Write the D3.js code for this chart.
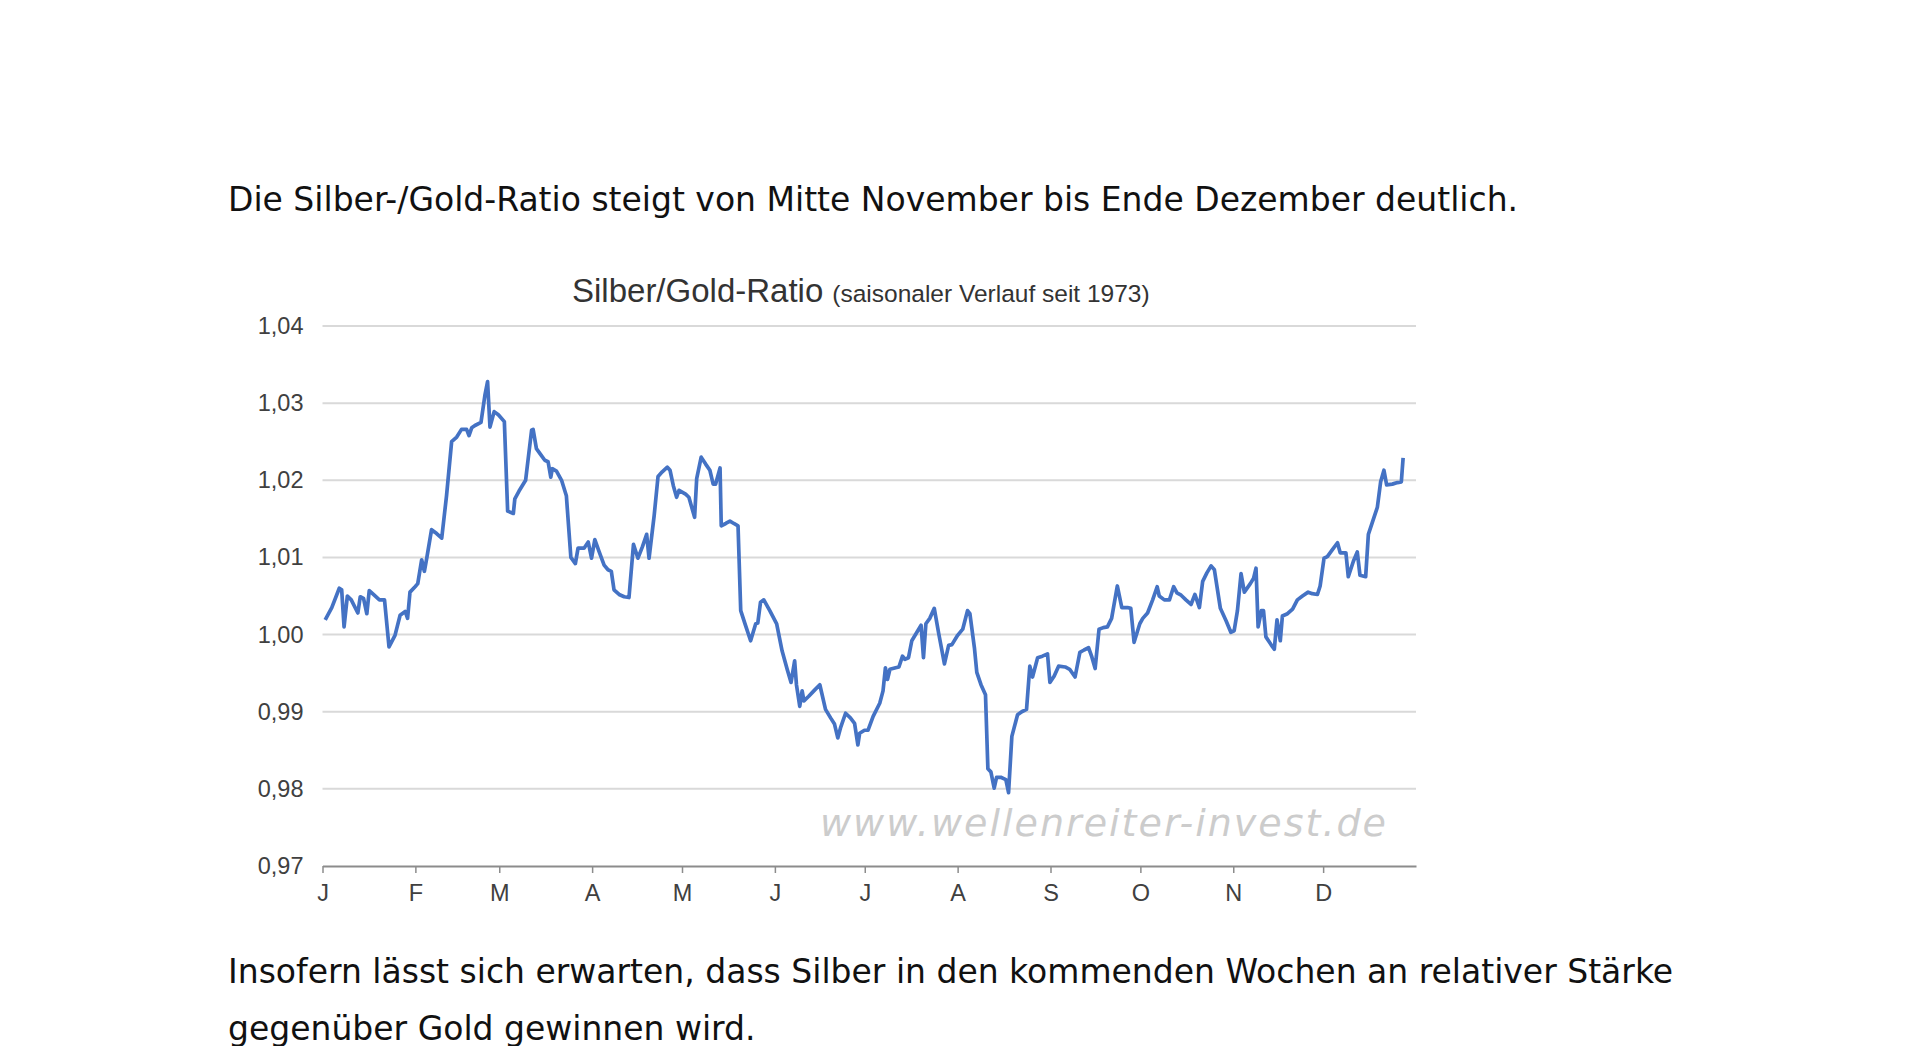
<!DOCTYPE html>
<html>
<head>
<meta charset="utf-8">
<script src="https://cdnjs.cloudflare.com/ajax/libs/d3/7.8.5/d3.min.js"></script>
<style>
    html, body { margin: 0; padding: 0; background: #fff; overflow: hidden; }
    svg { display: block; }
</style>
</head>
<body>
<div id="chart"></div>
<script>

// Texts
var introText = 'Die Silber-/Gold-Ratio steigt von Mitte November bis Ende Dezember deutlich.';
var outroLines = ['Insofern lässt sich erwarten, dass Silber in den kommenden Wochen an relativer Stärke',
                  'gegenüber Gold gewinnen wird.'];
var chartTitle = 'Silber/Gold-Ratio',
    chartSubtitle = '(saisonaler Verlauf seit 1973)',
    watermark = 'www.wellenreiter-invest.de';

// Axis ticks
var monthLabels = ['J', 'F', 'M', 'A', 'M', 'J', 'J', 'A', 'S', 'O', 'N', 'D'];
var monthStarts = [0, 31, 59, 90, 120, 151, 181, 212, 243, 273, 304, 334];
var yTicks = [0.97, 0.98, 0.99, 1.00, 1.01, 1.02, 1.03, 1.04];

// Seasonal ratio, day of year -> value
var ratioDays = [0.9,3.1,5.6,6.4,7.2,8.3,9.6,11.8,12.6,13.7,14.8,15.6,17,19,20.7,22.2,24.2,25.9,27.6,28.4,
    29.2,30.9,31.8,33.1,34,34.8,36.4,38.1,39.8,41.4,43.1,44.8,46.4,48.1,48.9,49.8,50.9,52.9,54.2,55.1,
    55.9,57.3,58.7,60.7,61.8,63.7,64.2,65.6,67.8,69.8,70.3,71.4,72.9,74.2,75.3,76.2,76.7,78.1,79.8,81.4,
    82.9,84.4,85.3,87.3,88.7,89.8,90.9,
    92.3,94,95.3,96.4,97.3,99,100.7,102.3,103.8,105.3,106.8,108.2,109,110.7,112,113.4,115.1,116,117.1,118.2,
    119,121.2,122.3,123.1,124.2,124.9,126.4,127.9,129.3,130.4,131.2,132.7,133.1,134.6,136,137.3,138.7,139.6,141.2,142.9,
    144.6,145.3,146.2,147.3,149.3,151.6,153.4,155.1,156.4,157.6,158.2,159.3,160.1,160.7,162.3,164,166,167.9,169.6,170.9,
    172,172.9,174.6,176.2,177.6,178.7,179.3,180.9,
    182.1,183.8,186,187.1,187.9,188.6,189.4,191.3,192.4,193.6,194.4,195.6,196.7,198.4,199.8,200.6,201.4,202.7,204.2,205.7,
    207.6,209,210.1,212,213.7,215.3,216.1,217.6,218.4,219.8,221.3,222.1,223.1,224.2,225,226.4,228.1,229,230.1,232,
    233.4,235,236.1,237,238.7,240.3,242,242.8,244.2,245.7,247.9,249.4,251.2,252.8,254.2,255.7,256.8,257.9,259.2,260.6,
    262,263.4,265.3,266.8,268.7,269.8,270.9,272.8,
    273.8,275.4,277.1,278.6,279.3,281,282.7,284.1,285.2,286.6,288.2,289.9,291.2,292.7,293.8,295.2,296.6,297.7,299.7,301.6,
    303.2,304.3,305.4,306.6,307.7,309.7,310.8,311.6,312.3,313.4,314.1,314.9,316.6,317.7,318.6,319.7,320.4,322.1,323.8,325.4,
    327.1,329,330.4,332.1,333,334.3,335.4,337.1,338.8,339.7,341.6,342.4,344.1,345.4,346.3,348.2,349.1,350.4,352.1,353.2,
    354.3,355.2,357.1,358.8,360.1,360.7];

var ratioValues = [1.0019,1.0035,1.0060,1.0058,1.0010,1.0050,1.0045,1.0028,1.0049,1.0047,1.0027,1.0057,1.0052,1.0045,1.0045,0.9984,0.9999,1.0025,1.0030,1.0021,
    1.0055,1.0062,1.0066,1.0097,1.0082,1.0099,1.0136,1.0131,1.0125,1.0180,1.0250,1.0256,1.0266,1.0266,1.0258,1.0268,1.0271,1.0275,1.0310,1.0328,
    1.0269,1.0289,1.0285,1.0276,1.0160,1.0157,1.0176,1.0186,1.0200,1.0265,1.0266,1.0241,1.0233,1.0226,1.0224,1.0204,1.0215,1.0212,1.0200,1.0180,
    1.0100,1.0092,1.0112,1.0112,1.0120,1.0099,1.0123,
    1.0108,1.0090,1.0084,1.0082,1.0058,1.0052,1.0049,1.0048,1.0117,1.0099,1.0114,1.0130,1.0099,1.0154,1.0205,1.0211,1.0217,1.0213,1.0193,1.0178,
    1.0187,1.0182,1.0178,1.0167,1.0152,1.0202,1.0230,1.0221,1.0213,1.0195,1.0195,1.0216,1.0141,1.0144,1.0147,1.0144,1.0141,1.0031,1.0012,0.9992,
    1.0014,1.0015,1.0042,1.0045,1.0031,1.0014,0.9979,0.9955,0.9938,0.9966,0.9935,0.9907,0.9927,0.9914,0.9920,0.9927,0.9935,0.9903,0.9892,0.9884,
    0.9866,0.9879,0.9898,0.9892,0.9885,0.9857,0.9872,0.9876,
    0.9876,0.9894,0.9911,0.9927,0.9957,0.9942,0.9955,0.9957,0.9958,0.9972,0.9968,0.9970,0.9992,1.0003,1.0012,0.9970,1.0014,1.0021,1.0034,1.0001,
    0.9962,0.9986,0.9987,0.9999,1.0007,1.0031,1.0027,0.9983,0.9951,0.9935,0.9922,0.9826,0.9822,0.9801,0.9815,0.9815,0.9812,0.9795,0.9868,0.9896,
    0.9900,0.9903,0.9959,0.9945,0.9970,0.9972,0.9975,0.9938,0.9946,0.9959,0.9958,0.9955,0.9945,0.9977,0.9980,0.9983,0.9971,0.9956,1.0007,1.0009,
    1.0010,1.0021,1.0063,1.0035,1.0035,1.0034,0.9990,1.0014,
    1.0021,1.0028,1.0045,1.0062,1.0050,1.0045,1.0045,1.0062,1.0054,1.0051,1.0045,1.0039,1.0052,1.0035,1.0069,1.0080,1.0089,1.0084,1.0034,1.0018,
    1.0003,1.0005,1.0031,1.0079,1.0055,1.0066,1.0073,1.0086,1.0010,1.0031,1.0031,0.9997,0.9987,0.9981,1.0019,0.9992,1.0024,1.0027,1.0033,1.0045,
    1.0050,1.0055,1.0053,1.0052,1.0063,1.0099,1.0101,1.0110,1.0119,1.0106,1.0106,1.0075,1.0095,1.0107,1.0077,1.0075,1.0130,1.0145,1.0165,1.0198,
    1.0213,1.0194,1.0195,1.0197,1.0198,1.0229];


var width = 1920,
    height = 1046;

// plot box
var plot = { left: 322.5, right: 1416, top: 326, bottom: 866 };

var textFont = '"DejaVu Sans", Verdana, sans-serif',
    chartFont = '"Liberation Sans", Arial, sans-serif';

var svg = d3.select('#chart').append('svg')
    .attr('width', width)
    .attr('height', height);

svg.append('rect').attr('width', width).attr('height', height).attr('fill', '#fff');

// Paragraphs around the chart
svg.append('text')
    .attr('x', 228).attr('y', 211)
    .style('font-family', textFont).style('font-size', '33px').style('fill', '#111')
    .text(introText);

svg.selectAll('.outro')
    .data(outroLines)
    .enter().append('text')
    .attr('class', 'outro')
    .attr('x', 228)
    .attr('y', function(d, i){ return 983 + i * 57; })
    .style('font-family', textFont).style('font-size', '33px').style('fill', '#111')
    .text(function(d){ return d; });

// Scales
var x = d3.scaleLinear().domain([0, 365]).range([plot.left, plot.right]);
var y = d3.scaleLinear().domain([0.97, 1.04]).range([plot.bottom, plot.top]);

// Horizontal grid
svg.append('g')
    .selectAll('line')
    .data(yTicks.filter(function(d){ return d > 0.975; }))
    .enter().append('line')
    .attr('x1', plot.left).attr('x2', plot.right)
    .attr('y1', function(d){ return y(d); })
    .attr('y2', function(d){ return y(d); })
    .attr('stroke', '#d9d9d9')
    .attr('stroke-width', 2);

// Y axis labels (no axis line in the original)
var yAxis = d3.axisLeft(y)
    .tickValues(yTicks)
    .tickSize(0)
    .tickPadding(19)
    .tickFormat(function(d){ return d3.format('.2f')(d).replace('.', ','); });

var yAxisG = svg.append('g')
    .attr('transform', 'translate(' + plot.left + ',0)')
    .call(yAxis);
yAxisG.select('.domain').remove();
yAxisG.selectAll('text')
    .style('font-family', chartFont).style('font-size', '23.5px').style('fill', '#404040');

// X axis with month ticks
var xAxis = d3.axisBottom(x)
    .tickValues(monthStarts)
    .tickSize(7)
    .tickSizeOuter(0)
    .tickPadding(11)
    .tickFormat(function(d, i){ return monthLabels[i]; });

var xAxisG = svg.append('g')
    .attr('transform', 'translate(0,' + plot.bottom + ')')
    .call(xAxis);
xAxisG.select('.domain').attr('stroke', '#8c8c8c').attr('stroke-width', 2);
xAxisG.selectAll('.tick line').attr('stroke', '#8c8c8c').attr('stroke-width', 1.5);
xAxisG.selectAll('text')
    .style('font-family', chartFont).style('font-size', '23.5px').style('fill', '#404040');

// Watermark
svg.append('text')
    .attr('x', 820).attr('y', 836)
    .attr('textLength', 566)
    .style('font-family', textFont).style('font-size', '38px')
    .style('font-style', 'italic').style('fill', '#cccccc')
    .text(watermark);

// Title
var title = svg.append('text')
    .attr('x', 572).attr('y', 302)
    .style('font-family', chartFont).style('fill', '#333');
title.append('tspan').style('font-size', '33px').text(chartTitle);
title.append('tspan').attr('dx', 9).style('font-size', '24.5px').text(chartSubtitle);

// Line
var points = ratioDays.map(function(d, i){ return { day: d, value: ratioValues[i] }; });

var line = d3.line()
    .x(function(d){ return x(d.day); })
    .y(function(d){ return y(d.value); });

svg.append('path')
    .datum(points)
    .attr('d', line)
    .attr('fill', 'none')
    .attr('stroke', '#4472c4')
    .attr('stroke-width', 3.7)
    .attr('stroke-linejoin', 'round');

</script>
</body>
</html>
